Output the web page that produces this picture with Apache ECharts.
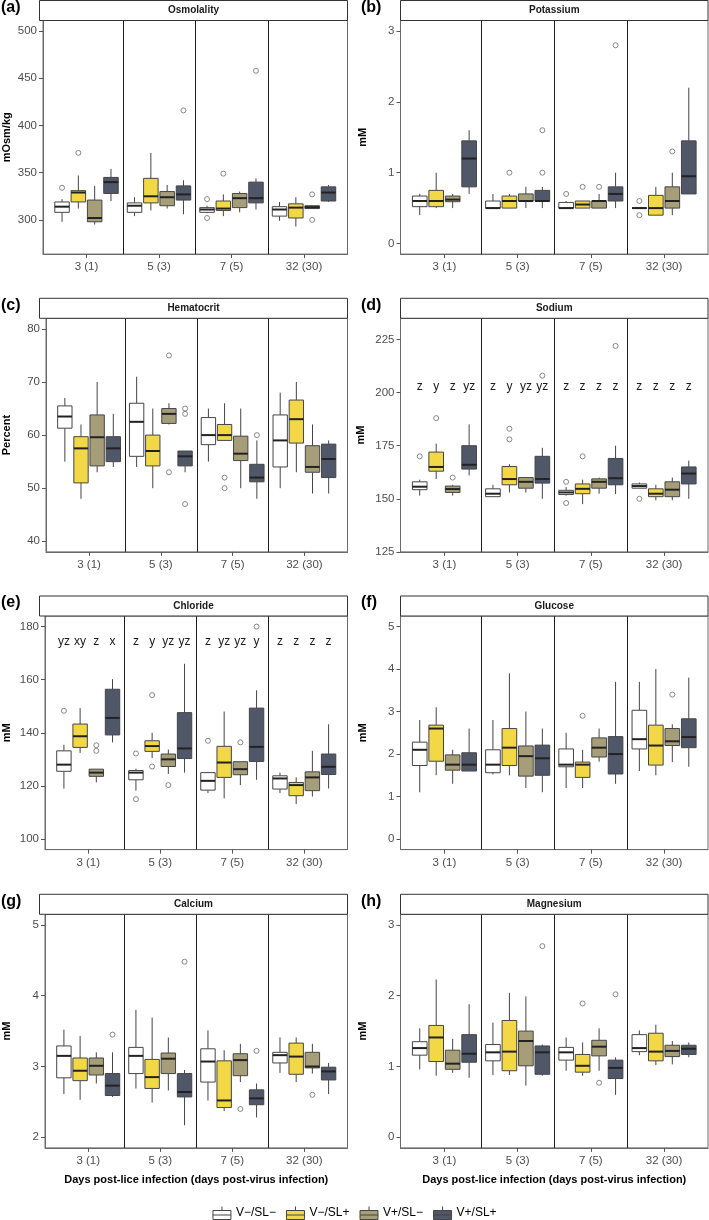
<!DOCTYPE html>
<html><head><meta charset="utf-8">
<script src="https://cdn.jsdelivr.net/npm/echarts@6/dist/echarts.min.js"></script>
<style>html,body{margin:0;padding:0;background:#fff}#chart{width:709px;height:1220px}</style>
</head><body><div id="chart"></div>
<script>
// ---------- data ----------
const categories = ['3 (1)', '5 (3)', '7 (5)', '32 (30)'];
const groups = ['V\u2212/SL\u2212', 'V\u2212/SL+', 'V+/SL\u2212', 'V+/SL+'];

// boxes[group][category] = [lower whisker, Q1, median, Q3, upper whisker]
const osmolalityBoxes = [
  [[298,308,314,319,322],[304,308,315,318,324],[307,308,311,313,315],[299,304,311,314,319]],
  [[312,319,329,331,347],[310,318,325,344,371],[304,310,312,320,327],[293,302,313,317,324]],
  [[295,298,302,321,336],[312,315,324,330,337],[308,313,323,328,330],[312,312,313.5,315,315]],
  [[320,328,340,345,354],[306,321,327,336,342],[311,318,323,340,344],[319,320,329,335,337]]
];
// outliers: [category index, group index, value]
const osmolalityOutliers = [[0,0,334],[0,1,371],[1,3,416],[2,0,322],[2,0,302],[2,1,349],[2,3,458],[3,2,327],[3,2,300]];
const osmolalityTicks = [300,350,400,450,500];

const potassiumBoxes = [
  [[0.4,0.52,0.6,0.67,0.7],[0.5,0.5,0.5,0.6,0.7],[0.5,0.5,0.5,0.58,0.6],[0.5,0.5,0.5,0.5,0.5]],
  [[0.5,0.52,0.6,0.75,1.0],[0.5,0.5,0.6,0.67,0.7],[0.5,0.5,0.55,0.6,0.6],[0.4,0.4,0.5,0.68,0.8]],
  [[0.5,0.59,0.62,0.67,0.7],[0.5,0.6,0.6,0.7,0.8],[0.5,0.5,0.6,0.6,0.7],[0.4,0.5,0.6,0.8,1.0]],
  [[0.7,0.8,1.2,1.45,1.6],[0.5,0.6,0.6,0.75,0.8],[0.5,0.6,0.7,0.8,1.0],[0.7,0.7,0.95,1.45,2.2]]
];
const potassiumOutliers = [[1,1,1.0],[1,3,1.0],[1,3,1.6],[2,0,0.7],[2,1,0.8],[2,2,0.8],[2,3,2.8],[3,0,0.6],[3,0,0.4],[3,2,1.3]];
const potassiumTicks = [0,1,2,3];

const hematocritBoxes = [
  [[55,61.3,63.5,65.5,67],[54,56,62.5,66,71],[55,58.2,60,63.3,65],[50,54,59,63.8,68]],
  [[48,51,57.5,59.7,62],[50,54.2,57,60,65],[59,59,60,62,66],[53,58.5,63,66.6,70]],
  [[53,54.2,59.6,63.8,70],[62,62.2,64,65,66],[50,55.2,56.5,59.8,65],[49,53,54,58,62]],
  [[54,55,57.5,59.7,64],[53,54.2,56,57,57],[48,51.2,52,54.5,59],[49,52,55.5,58.3,59]]
];
const hematocritOutliers = [[1,2,75],[1,2,53],[1,3,65],[1,3,64],[1,3,47],[2,1,52],[2,1,50],[2,3,60]];
const hematocritTicks = [40,50,60,70,80];

const sodiumBoxes = [
  [[151.5,154.3,155.7,158,159],[151,151,152.4,154.7,156.6],[151.5,152,153,154,155.5],[155,155,156,157,157.7]],
  [[159.3,163,165,172,176],[153,156.6,159.3,165.2,166.3],[147.5,152.4,154.7,157,159],[149.3,151,152.4,154.7,156.6]],
  [[151.5,153,154.6,156,156.6],[153,155,158,160,160],[152.4,155,158,159.4,160],[149.3,151,154.3,158,160]],
  [[161,164,166,175,185],[150,157.4,159.3,170,174],[152.2,156.6,159.7,169,175],[150,157,161.9,165,168]]
];
const sodiumOutliers = [[0,0,170],[0,1,188],[0,2,160],[1,1,183],[1,1,178],[1,3,208],[2,0,158],[2,0,148],[2,1,170],[2,3,222],[3,0,150]];
const sodiumTicks = [125,150,175,200,225];
// letters[category][group]
const sodiumLetters = [['z','y','z','yz'],['z','y','yz','yz'],['z','z','z','z'],['z','z','z','z']];

const chlorideBoxes = [
  [[119,125.5,128,133.2,135.5],[118.2,122.3,125,125.8,126.5],[117.3,118.4,121.9,125,125.3],[117.3,118.8,122.8,123.8,125]],
  [[132.4,134.5,138.7,143.3,149.3],[130.5,133,135,137,140],[115.3,123.2,128.8,134.9,148],[113.2,116.3,120.3,121.3,123.2]],
  [[121.3,123.6,125,126.3,126.3],[124.5,127.3,130,132,133.7],[120.3,124.2,126.3,129.1,129.1],[116,118.2,123.2,125.3,133.2]],
  [[136.4,139.2,145.6,156.4,160.2],[125,130.3,134.1,147.6,166],[122.3,129.2,134.7,149.3,156],[119,124.3,127.2,132,143.2]]
];
const chlorideOutliers = [[0,0,148.3],[0,2,135.3],[0,2,133.2],[1,0,132.2],[1,0,115],[1,1,154.2],[1,1,127.3],[1,2,120.3],[2,0,137],[2,2,136.4],[2,3,180]];
const chlorideTicks = [100,120,140,160,180];
const chlorideLetters = [['yz','xy','z','x'],['z','y','yz','yz'],['z','yz','yz','y'],['z','z','z','z']];

const glucoseBoxes = [
  [[1.1,1.73,2.1,2.28,2.8],[1.52,1.56,1.75,2.1,2.8],[1.2,1.7,1.75,2.12,2.5],[1.6,2.12,2.35,3.03,3.7]],
  [[1.5,1.83,2.6,2.68,3.1],[1.5,1.73,2.15,2.6,3.9],[1.2,1.45,1.75,1.81,2.1],[1.5,1.74,2.2,2.68,4.0]],
  [[1.3,1.62,1.75,1.98,2.1],[1.2,1.48,1.95,2.19,3.0],[1.82,1.93,2.15,2.38,2.6],[1.81,2.2,2.3,2.6,2.7]],
  [[1.6,1.6,1.75,2.03,2.6],[1.1,1.5,1.9,2.21,2.6],[1.3,1.53,2.0,2.41,3.7],[1.7,2.15,2.4,2.83,3.8]]
];
const glucoseOutliers = [[2,1,2.9],[3,2,3.4]];
const glucoseTicks = [0,1,2,3,4,5];

const calciumBoxes = [
  [[2.61,2.84,3.15,3.29,3.52],[2.69,2.9,3.15,3.27,3.8],[2.52,2.78,3.07,3.25,3.51],[2.91,3.05,3.16,3.2,3.41]],
  [[2.53,2.8,2.94,3.12,3.43],[2.49,2.69,2.85,3.1,3.69],[2.37,2.42,2.52,3.08,3.23],[2.78,2.89,3.14,3.33,3.41]],
  [[2.76,2.88,3.01,3.12,3.2],[2.66,2.9,3.11,3.19,3.41],[2.78,2.87,3.09,3.18,3.32],[2.9,2.98,3.0,3.2,3.32]],
  [[2.57,2.59,2.73,2.9,3.2],[2.17,2.57,2.64,2.9,2.95],[2.28,2.46,2.55,2.67,2.76],[2.61,2.81,2.93,2.99,3.05]]
];
const calciumOutliers = [[0,3,3.45],[1,3,4.48],[2,2,2.4],[2,3,3.22],[3,2,2.6]];
const calciumTicks = [2,3,4,5];

const magnesiumBoxes = [
  [[0.96,1.16,1.26,1.35,1.54],[0.88,1.08,1.2,1.31,1.62],[0.94,1.09,1.2,1.27,1.41],[1.16,1.21,1.26,1.45,1.51]],
  [[0.87,1.07,1.41,1.58,2.23],[0.88,0.94,1.21,1.65,2.04],[0.87,0.92,1.01,1.17,1.34],[1.02,1.08,1.21,1.47,1.59]],
  [[0.91,0.96,1.04,1.23,1.39],[0.73,1.01,1.36,1.5,1.99],[0.94,1.15,1.28,1.37,1.54],[1.03,1.14,1.22,1.3,1.36]],
  [[0.84,1.06,1.18,1.45,1.88],[0.87,0.89,1.2,1.29,1.31],[0.6,0.83,0.98,1.09,1.13],[1.13,1.17,1.25,1.3,1.34]]
];
const magnesiumOutliers = [[1,3,2.7],[2,1,1.89],[2,2,0.77],[2,3,2.02]];
const magnesiumTicks = [0,1,2,3];

// ---------- styling / layout ----------
const FONT = '"Liberation Sans", Arial, Helvetica, sans-serif';
const groupColors = ['#FFFFFF', '#F2D846', '#A69E79', '#505769'];
const LINE = '#454545', MEDIAN = '#222222', FRAME = '#6a6a6a', DIVIDER = '#1e1e1e';
const OFFSETS = [-0.3375, -0.1125, 0.1125, 0.3375];
const BOX_W = 0.2;
const COL_LEFT = [39.5, 400.5], COL_W = [308, 307.5];
const ROW_TOP = [20.5, 318.3, 616, 914.3], PLOT_H = 233.6, STRIP_H = 20;

const panels = [
  {letter:'(a)', title:'Osmolality', unit:'mOsm/kg', boxes:osmolalityBoxes, outliers:osmolalityOutliers, ticks:osmolalityTicks, min:263.75, max:511.25, col:0, row:0, gap:31},
  {letter:'(b)', title:'Potassium', unit:'mM', boxes:potassiumBoxes, outliers:potassiumOutliers, ticks:potassiumTicks, min:-0.15, max:3.15, col:1, row:0, gap:32},
  {letter:'(c)', title:'Hematocrit', unit:'Percent', boxes:hematocritBoxes, outliers:hematocritOutliers, ticks:hematocritTicks, min:38, max:82, col:0, row:1, gap:34},
  {letter:'(d)', title:'Sodium', unit:'mM', boxes:sodiumBoxes, outliers:sodiumOutliers, ticks:sodiumTicks, min:125, max:235, col:1, row:1, gap:34, letters:sodiumLetters, letterY:203},
  {letter:'(e)', title:'Chloride', unit:'mM', boxes:chlorideBoxes, outliers:chlorideOutliers, ticks:chlorideTicks, min:96, max:184, col:0, row:2, gap:33, letters:chlorideLetters, letterY:174.5},
  {letter:'(f)', title:'Glucose', unit:'mM', boxes:glucoseBoxes, outliers:glucoseOutliers, ticks:glucoseTicks, min:-0.25, max:5.25, col:1, row:2, gap:32},
  {letter:'(g)', title:'Calcium', unit:'mM', boxes:calciumBoxes, outliers:calciumOutliers, ticks:calciumTicks, min:1.85, max:5.15, col:0, row:3, gap:33},
  {letter:'(h)', title:'Magnesium', unit:'mM', boxes:magnesiumBoxes, outliers:magnesiumOutliers, ticks:magnesiumTicks, min:-0.15, max:3.15, col:1, row:3, gap:32}
];

function renderBox(params, api) {
  const x = api.value(0);
  const pLow = api.coord([x, api.value(1)]);
  const pQ1 = api.coord([x, api.value(2)]);
  const pMed = api.coord([x, api.value(3)]);
  const pQ3 = api.coord([x, api.value(4)]);
  const pHigh = api.coord([x, api.value(5)]);
  const w = api.size([BOX_W, 0])[0];
  const cx = pMed[0];
  const fill = api.visual('color');
  return {
    type: 'group',
    children: [
      {type:'line', shape:{x1:cx, y1:pHigh[1], x2:cx, y2:pQ3[1]}, style:{stroke:LINE, lineWidth:1}},
      {type:'line', shape:{x1:cx, y1:pQ1[1], x2:cx, y2:pLow[1]}, style:{stroke:LINE, lineWidth:1}},
      {type:'rect', shape:{x:cx - w/2, y:pQ3[1], width:w, height:Math.max(pQ1[1] - pQ3[1], 0.01)}, style:{fill:fill, stroke:LINE, lineWidth:1}},
      {type:'line', shape:{x1:cx - w/2, y1:pMed[1], x2:cx + w/2, y2:pMed[1]}, style:{stroke:MEDIAN, lineWidth:2}}
    ]
  };
}

const grids = [], xAxes = [], yAxes = [], series = [], graphics = [];

panels.forEach(function (p, pi) {
  const left = COL_LEFT[p.col], width = COL_W[p.col], top = ROW_TOP[p.row];
  grids.push({left:left, top:top, width:width, height:PLOT_H, show:true, borderColor:FRAME, borderWidth:1, backgroundColor:'#fff', containLabel:false});
  const isBottom = p.row === 3;
  xAxes.push({
    type:'value', gridIndex:pi, min:0.4, max:4.6,
    axisLine:{show:true, onZero:false, lineStyle:{color:FRAME, width:1}},
    axisTick:{show:true, length:4, customValues:[1,2,3,4], lineStyle:{color:'#555'}},
    axisLabel:{show:true, customValues:[1,2,3,4], margin:7, color:'#4d4d4d', fontSize:11.5, fontFamily:FONT,
      formatter:function (v) { return categories[Math.round(v) - 1]; }},
    splitLine:{show:false},
    name: isBottom ? 'Days post-lice infection (days post-virus infection)' : '',
    nameLocation:'middle', nameGap:27,
    nameTextStyle:{fontSize:11, fontWeight:'bold', color:'#000', fontFamily:FONT}
  });
  yAxes.push({
    type:'value', gridIndex:pi, min:p.min, max:p.max,
    axisLine:{show:true, onZero:false, lineStyle:{color:FRAME, width:1}},
    axisTick:{show:true, length:4, customValues:p.ticks, lineStyle:{color:'#555'}},
    axisLabel:{show:true, customValues:p.ticks, margin:6, color:'#4d4d4d', fontSize:11.5, fontFamily:FONT},
    splitLine:{show:false},
    name:p.unit, nameLocation:'middle', nameRotate:90, nameGap:p.gap,
    nameTextStyle:{fontSize:11, fontWeight:'bold', color:'#000', fontFamily:FONT}
  });

  // boxes
  groups.forEach(function (g, gi) {
    series.push({
      type:'custom', name:g, xAxisIndex:pi, yAxisIndex:pi,
      itemStyle:{color:groupColors[gi], borderColor:LINE, borderWidth:1},
      encode:{x:0, y:[1,2,3,4,5]},
      data: categories.map(function (c, ci) { return [ci + 1 + OFFSETS[gi]].concat(p.boxes[gi][ci]); }),
      renderItem:renderBox, silent:true, z:2
    });
  });

  // outliers + facet dividers
  series.push({
    type:'scatter', name:'outliers-' + pi, xAxisIndex:pi, yAxisIndex:pi,
    symbol:'circle', symbolSize:5, silent:true, z:3,
    itemStyle:{color:'rgba(255,255,255,0)', borderColor:'#6b6b6b', borderWidth:1},
    data: p.outliers.map(function (o) { return [o[0] + 1 + OFFSETS[o[1]], o[2]]; }),
    markLine:{
      silent:true, symbol:['none','none'], label:{show:false},
      lineStyle:{color:DIVIDER, width:1, type:'solid'},
      emphasis:{disabled:true},
      data:[{xAxis:1.5},{xAxis:2.5},{xAxis:3.5}]
    }
  });

  // significance letters
  if (p.letters) {
    const flat = [], texts = [];
    p.letters.forEach(function (row, ci) {
      row.forEach(function (t, gi) { flat.push([ci + 1 + OFFSETS[gi], p.letterY]); texts.push(t); });
    });
    series.push({
      type:'custom', name:'letters-' + pi, xAxisIndex:pi, yAxisIndex:pi, silent:true, z:4,
      data:flat,
      renderItem:function (params, api) {
        const pt = api.coord([api.value(0), api.value(1)]);
        return {type:'text', x:pt[0], y:pt[1], style:{text:texts[params.dataIndex], fill:'#1a1a1a', font:'12px ' + FONT, align:'center', verticalAlign:'middle'}};
      }
    });
  }

  // strip header
  graphics.push({type:'rect', shape:{x:left, y:top - STRIP_H, width:width, height:STRIP_H}, style:{fill:'#fff', stroke:'#333', lineWidth:1}, z:10});
  graphics.push({type:'text', x:left + width/2, y:top - STRIP_H/2, style:{text:p.title, fill:'#1a1a1a', font:'bold 10px ' + FONT, align:'center', verticalAlign:'middle'}, z:11});
  // panel letter
  graphics.push({type:'text', x:p.col === 0 ? 1 : 361, y:top - STRIP_H - 1, style:{text:p.letter, fill:'#000', font:'bold 16px ' + FONT, align:'left', verticalAlign:'top'}, z:11});
});

const legendIcon = 'path://M9,0 L9,4 M0,4 L18,4 L18,13 L0,13 Z M0,8.5 L18,8.5';

const option = {
  animation:false,
  backgroundColor:'#fff',
  textStyle:{fontFamily:FONT},
  grid:grids, xAxis:xAxes, yAxis:yAxes, series:series,
  graphic:{elements:graphics},
  legend:{
    show:true, top:1201, left:'center', itemWidth:18, itemHeight:13, itemGap:10,
    icon:legendIcon, selectedMode:false,
    textStyle:{fontSize:12, color:'#000', fontFamily:FONT},
    data: groups.map(function (g, gi) {
      return {name:g, icon:legendIcon, itemStyle:{color:groupColors[gi], borderColor:LINE, borderWidth:1}};
    })
  }
};

const chart = echarts.init(document.getElementById('chart'), null, {renderer:'canvas'});
chart.setOption(option);
</script>
</body></html>
